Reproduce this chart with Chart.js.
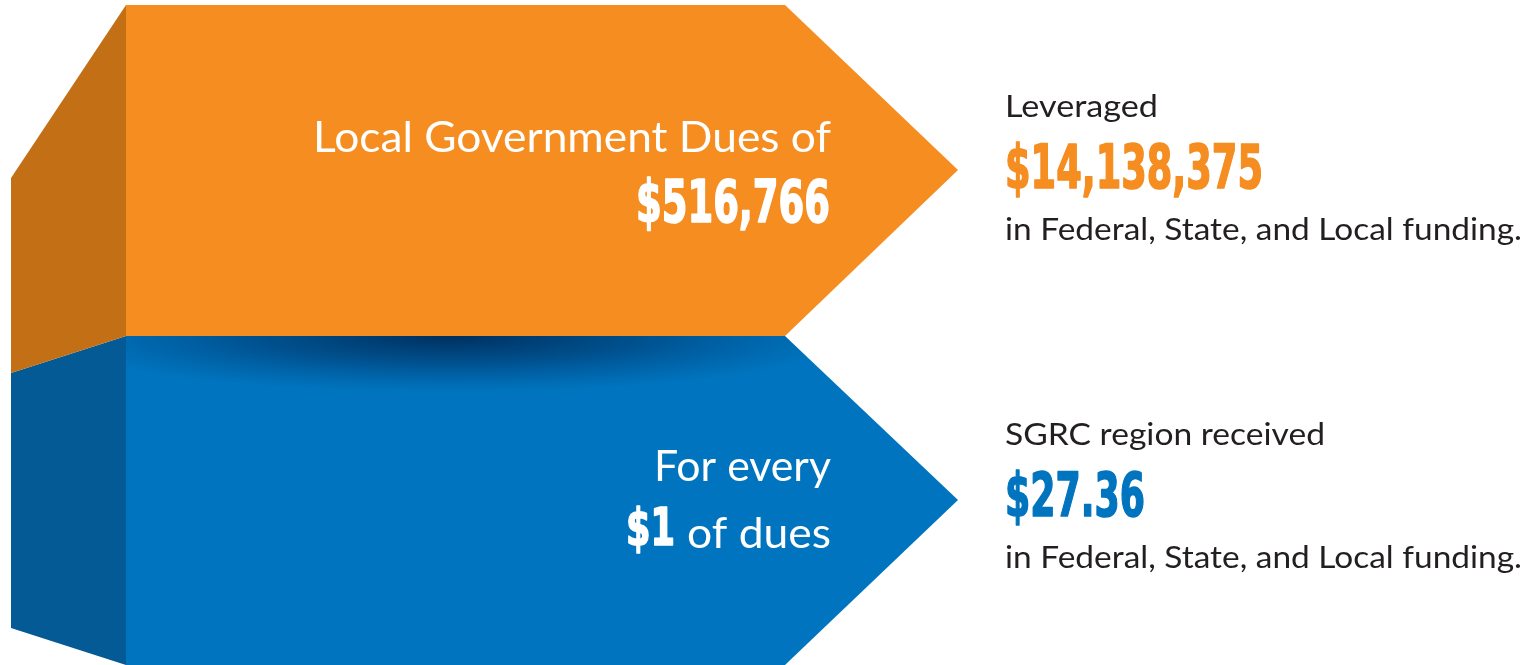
<!DOCTYPE html>
<html>
<head>
<meta charset="utf-8">
<title>SGRC dues leverage</title>
<script src="https://cdn.jsdelivr.net/npm/chart.js@4.4.1/dist/chart.umd.min.js"></script>
<style>
  html, body { margin: 0; padding: 0; background: #fff; }
  #wrap { width: 1536px; height: 665px; position: relative; }
</style>
</head>
<body>
<div id="wrap"><canvas id="chart"></canvas></div>
<script>
const arrowCaptions = ['Local Government Dues of', 'For every'];
const arrowValues = [516766, 1];
const arrowSuffix = ['', 'of dues'];
const leadIns = ['Leveraged', 'SGRC region received'];
const fundingValues = [14138375, 27.36];
const fundingNote = 'in Federal, State, and Local funding.';

const ORANGE = '#F58D21';
const ORANGE_SIDE = '#C26F16';
const BLUE = '#0074BE';
const BLUE_SIDE = '#045A94';
const INK = '#231F20';

// arrow geometry (page pixels, y down) - top edge and bottom edge of each face
const faces = [
  { color: ORANGE_SIDE, top: [[11, 178], [126, 5]], bottom: [[11, 373], [126, 336]] },
  { color: ORANGE, top: [[126, 5], [785, 5], [958, 170]], bottom: [[126, 336], [785, 336], [958, 170]] },
  { color: BLUE_SIDE, top: [[11, 373], [126, 336]], bottom: [[11, 628], [126, 665]] },
  { color: BLUE, top: [[126, 336], [785, 336], [958, 500]], bottom: [[126, 665], [785, 665], [958, 500]] }
];

const money = v => '$' + v.toLocaleString('en-US', { maximumFractionDigits: 2 });

const datasets = [];
faces.forEach(f => {
  const pts = arr => arr.map(p => ({ x: p[0], y: p[1] }));
  datasets.push({ data: pts(f.top), fill: '+1', backgroundColor: f.color, borderColor: 'transparent', borderWidth: 0, pointRadius: 0 });
  datasets.push({ data: pts(f.bottom), fill: false, borderColor: 'transparent', borderWidth: 0, pointRadius: 0 });
});

// draw text squeezed/stretched to the width it takes in the picture
function fitText(ctx, text, x, y, width, font, color, align, heavy) {
  ctx.save();
  ctx.font = font;
  const w = ctx.measureText(text).width;
  const s = Math.max(0.5, Math.min(1.4, width / w));
  ctx.translate(x, y);
  ctx.scale(s, 1);
  ctx.textAlign = align;
  ctx.textBaseline = 'alphabetic';
  ctx.fillStyle = color;
  ctx.fillText(text, 0, 0);
  if (heavy) {
    ctx.strokeStyle = color;
    ctx.lineWidth = heavy;
    ctx.lineJoin = 'round';
    ctx.strokeText(text, 0, 0);
  }
  ctx.restore();
}

const SANS = 'Lato, "Noto Sans", sans-serif';
const BOLD = '"Liberation Sans Narrow", "DejaVu Sans Condensed", sans-serif';

const shadowPlugin = {
  id: 'shadow',
  afterDatasetsDraw(chart) {
    const { ctx, scales: { x, y } } = chart;
    const blue = faces[3];
    const poly = blue.top.concat(blue.bottom.slice().reverse());
    ctx.save();
    ctx.beginPath();
    poly.forEach((p, i) => {
      const px = x.getPixelForValue(p[0]), py = y.getPixelForValue(p[1]);
      i ? ctx.lineTo(px, py) : ctx.moveTo(px, py);
    });
    ctx.closePath();
    ctx.clip();
    const cx = x.getPixelForValue(450), cy = y.getPixelForValue(336);
    const R = 400;
    ctx.translate(cx, cy);
    ctx.scale(1, 0.14);
    const g = ctx.createRadialGradient(0, 0, 0, 0, 0, R);
    g.addColorStop(0, 'rgba(0,30,70,0.8)');
    g.addColorStop(0.5, 'rgba(0,35,80,0.42)');
    g.addColorStop(1, 'rgba(0,50,110,0)');
    ctx.fillStyle = g;
    ctx.fillRect(-R, -R, 2 * R, 2 * R);
    ctx.restore();
  }
};

const textPlugin = {
  id: 'texts',
  afterDraw(chart) {
    const ctx = chart.ctx;
    // orange arrow
    fitText(ctx, arrowCaptions[0], 831, 152, 518, '43px ' + SANS, '#fff', 'right');
    fitText(ctx, money(arrowValues[0]), 830, 222, 194, 'bold 58px ' + BOLD, '#fff', 'right', 1.6);
    // blue arrow
    fitText(ctx, arrowCaptions[1], 831, 481, 177, '43px ' + SANS, '#fff', 'right');
    fitText(ctx, arrowSuffix[1], 831, 548, 144, '43px ' + SANS, '#fff', 'right');
    fitText(ctx, money(arrowValues[1]), 675, 545, 49, 'bold 52px ' + BOLD, '#fff', 'right', 1.6);
    // right column
    const rows = [
      { lead: 117, val: 188, note: 240, leadW: 153, valW: 258, color: ORANGE },
      { lead: 445, val: 516, note: 568, leadW: 320, valW: 140, color: BLUE }
    ];
    rows.forEach((r, i) => {
      fitText(ctx, leadIns[i], 1005, r.lead, r.leadW, '31px ' + SANS, INK, 'left');
      fitText(ctx, money(fundingValues[i]), 1005, r.val, r.valW, 'bold 60px ' + BOLD, r.color, 'left', 1.6);
      fitText(ctx, fundingNote, 1005, r.note, 517, '31px ' + SANS, INK, 'left');
    });
  }
};

new Chart(document.getElementById('chart'), {
  type: 'line',
  data: { datasets },
  options: {
    responsive: true,
    maintainAspectRatio: false,
    animation: false,
    events: [],
    layout: { padding: 0 },
    scales: {
      x: { type: 'linear', min: 0, max: 1536, display: false },
      y: { type: 'linear', min: 0, max: 665, reverse: true, display: false }
    },
    plugins: { legend: { display: false }, tooltip: { enabled: false } },
    elements: { line: { tension: 0 } }
  },
  plugins: [shadowPlugin, textPlugin]
});
</script>
</body>
</html>
